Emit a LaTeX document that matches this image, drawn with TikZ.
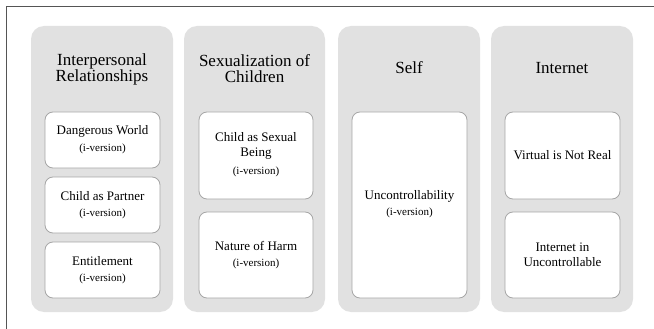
\documentclass[tikz,border=0pt]{standalone}
\usepackage{fontspec}
\setmainfont{Liberation Serif}
\definecolor{colfill}{HTML}{E1E1E1}
\definecolor{boxline}{HTML}{A6A6A6}
\definecolor{frameline}{HTML}{555555}
\begin{document}
\begin{tikzpicture}[x=1pt,y=-1pt,
  column/.style={fill=colfill,draw=none,rounded corners=13pt},
  item/.style={fill=white,draw=boxline,line width=0.8pt,rounded corners=8pt},
  ttl/.style={font=\rmfamily\fontsize{17}{16}\selectfont,align=center,inner sep=0pt},
  lbl/.style={font=\rmfamily\fontsize{13}{14.5}\selectfont,align=center,inner sep=0pt},
  ver/.style={font=\rmfamily\fontsize{11}{11}\selectfont,inner sep=0pt}]
\useasboundingbox (0,0) rectangle (654,329);
\fill[white] (0,0) rectangle (654,329);
\coordinate (ftr) at (654,6.5);
\coordinate (ftl) at (6.5,6.5);
\coordinate (fbl) at (6.5,329);
\draw[frameline,line width=1.2pt] (ftr) -- (ftl) -- (fbl);
% columns
\path[column] (31,26) rectangle (173,312);
\path[column] (184,26) rectangle (325,312);
\path[column] (338,26) rectangle (480,312);
\path[column] (491,26) rectangle (633,312);
% titles
\node[ttl] (t1) at (102,69) {Interpersonal\\Relationships};
\node[ttl] (t2) at (254.5,69) {Sexualization of\\Children};
\node[ttl] (t3) at (409,68) {Self};
\node[ttl] (t4) at (562,68) {Internet};
% column 1
\draw[item] (45,112) rectangle (160,168);
\node[lbl] (a1) at (102.5,131) {Dangerous World};
\node[ver] (a1v) at (102.5,149) {(i-version)};
\draw[item] (45,177) rectangle (160,233);
\node[lbl] (a2) at (102.5,196) {Child as Partner};
\node[ver] (a2v) at (102.5,214) {(i-version)};
\draw[item] (45,242) rectangle (160,298);
\node[lbl] (a3) at (102.5,261) {Entitlement};
\node[ver] (a3v) at (102.5,279) {(i-version)};
% column 2
\draw[item] (199,112) rectangle (313,199);
\node[lbl] (b1) at (256,146) {Child as Sexual\\Being};
\node[ver] (b1v) at (256,172) {(i-version)};
\draw[item] (199,212) rectangle (313,298);
\node[lbl] (b2) at (256,246) {Nature of Harm};
\node[ver] (b2v) at (256,264) {(i-version)};
% column 3
\draw[item] (352,112) rectangle (467,298);
\node[lbl] (c1) at (409.5,196) {Uncontrollability};
\node[ver] (c1v) at (409.5,213) {(i-version)};
% column 4
\draw[item] (505,112) rectangle (620,199);
\node[lbl] (d1) at (562.5,155) {Virtual is Not Real};
\draw[item] (505,212) rectangle (620,298);
\node[lbl] (d2) at (562.5,255) {Internet in\\Uncontrollable};
\end{tikzpicture}
\end{document}
